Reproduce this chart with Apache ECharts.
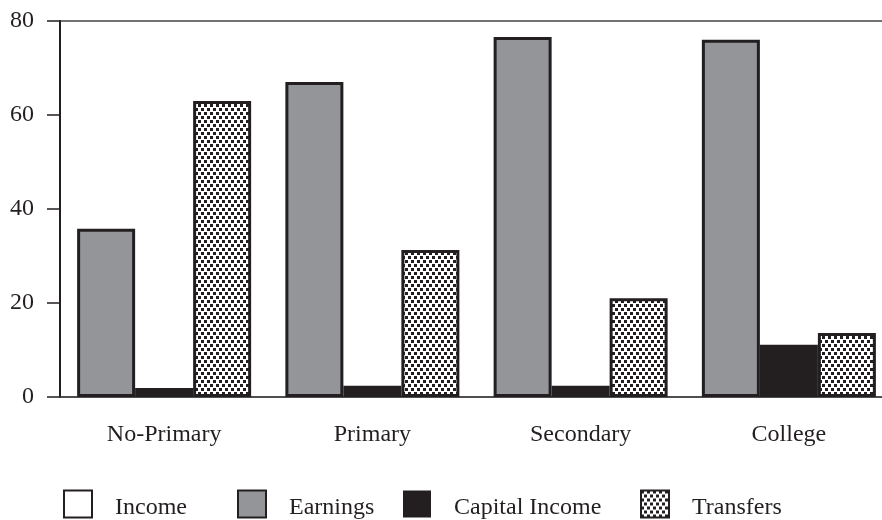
<!DOCTYPE html>
<html>
<head>
<meta charset="utf-8">
<script src="https://cdn.jsdelivr.net/npm/echarts@6/dist/echarts.min.js"></script>
<style>
  html, body { margin: 0; padding: 0; background: #fff; }
  #chart { width: 882px; height: 520px; }
</style>
</head>
<body>
<div id="chart"></div>
<script>
// data
const categories = ['No-Primary', 'Primary', 'Secondary', 'College'];
const earnings = [35.8, 67, 76.6, 76];
const capitalIncome = [1.9, 2.4, 2.4, 11.1];
const transfers = [63, 31.3, 21, 13.6];
const income = []; // shown in the legend only, no bars in the picture
const yTicks = [0, 20, 40, 60, 80];

const ink = '#231f20';
const serif = '"Liberation Serif", "DejaVu Serif", serif';

// dotted fill for the Transfers bars
function dotPattern() {
    const c = document.createElement('canvas');
    c.width = 6;
    c.height = 8;
    const ctx = c.getContext('2d');
    ctx.fillStyle = '#fff';
    ctx.fillRect(0, 0, 6, 8);
    ctx.fillStyle = ink;
    ctx.fillRect(0, 0, 3, 3);
    ctx.fillRect(3, 4, 3, 3);
    return c;
}
const dots = { image: dotPattern(), repeat: 'repeat' };

const chart = echarts.init(document.getElementById('chart'), null, { renderer: 'canvas' });

// one legend per entry so each can sit where the reference puts it
const legendSpots = [
    { name: 'Income', left: 63 },
    { name: 'Earnings', left: 237 },
    { name: 'Capital Income', left: 403 },
    { name: 'Transfers', left: 640 }
];

// leading newline + small lineHeight nudges the label a few px below the icon centre
const legends = legendSpots.map(s => ({
    data: [{ name: s.name, icon: 'rect' }],
    left: s.left,
    top: 488,
    padding: 0,
    itemWidth: 28,
    itemHeight: 27,
    selectedMode: false,
    formatter: '\n{name}',
    textStyle: {
        fontFamily: serif,
        fontSize: 24,
        lineHeight: 8,
        color: ink,
        padding: [0, 0, 0, 18]
    }
}));

const barBase = { type: 'bar', barWidth: 58, barGap: '0%', silent: true };

chart.setOption({
    animation: false,
    backgroundColor: '#fff',
    legend: legends,
    // the plot runs past the right edge of the picture, so its right border is cut off
    grid: {
        left: 60, top: 21, width: 833, height: 376,
        outerBoundsMode: 'none',
        show: true, borderColor: '#444', borderWidth: 1.5, backgroundColor: 'transparent'
    },
    xAxis: [{
        type: 'category',
        data: categories,
        axisLine: { lineStyle: { color: '#444', width: 1.5 } },
        axisTick: { alignWithLabel: true, length: 12, lineStyle: { color: ink, width: 1.5 } },
        axisLabel: { fontFamily: serif, fontSize: 24, color: ink, margin: 26 }
    }, {
        type: 'category',
        data: categories,
        show: false
    }],
    yAxis: {
        type: 'value',
        min: yTicks[0],
        max: yTicks[yTicks.length - 1],
        interval: 20,
        splitLine: { show: false },
        axisLine: { show: true, lineStyle: { color: ink, width: 2 } },
        axisTick: { show: true, length: 13, lineStyle: { color: ink, width: 1.5 } },
        axisLabel: { fontFamily: serif, fontSize: 24, color: ink, margin: 26 }
    },
    series: [
        Object.assign({}, barBase, {
            name: 'Income', data: income, xAxisIndex: 1,
            itemStyle: { color: '#fff', borderColor: ink, borderWidth: 3 }
        }),
        Object.assign({}, barBase, {
            name: 'Earnings', data: earnings,
            itemStyle: { color: '#939598', borderColor: ink, borderWidth: 3 }
        }),
        Object.assign({}, barBase, {
            name: 'Capital Income', data: capitalIncome,
            itemStyle: { color: ink, borderColor: ink, borderWidth: 0 }
        }),
        Object.assign({}, barBase, {
            name: 'Transfers', data: transfers,
            itemStyle: { color: dots, borderColor: ink, borderWidth: 3 }
        })
    ]
});
</script>
</body>
</html>
